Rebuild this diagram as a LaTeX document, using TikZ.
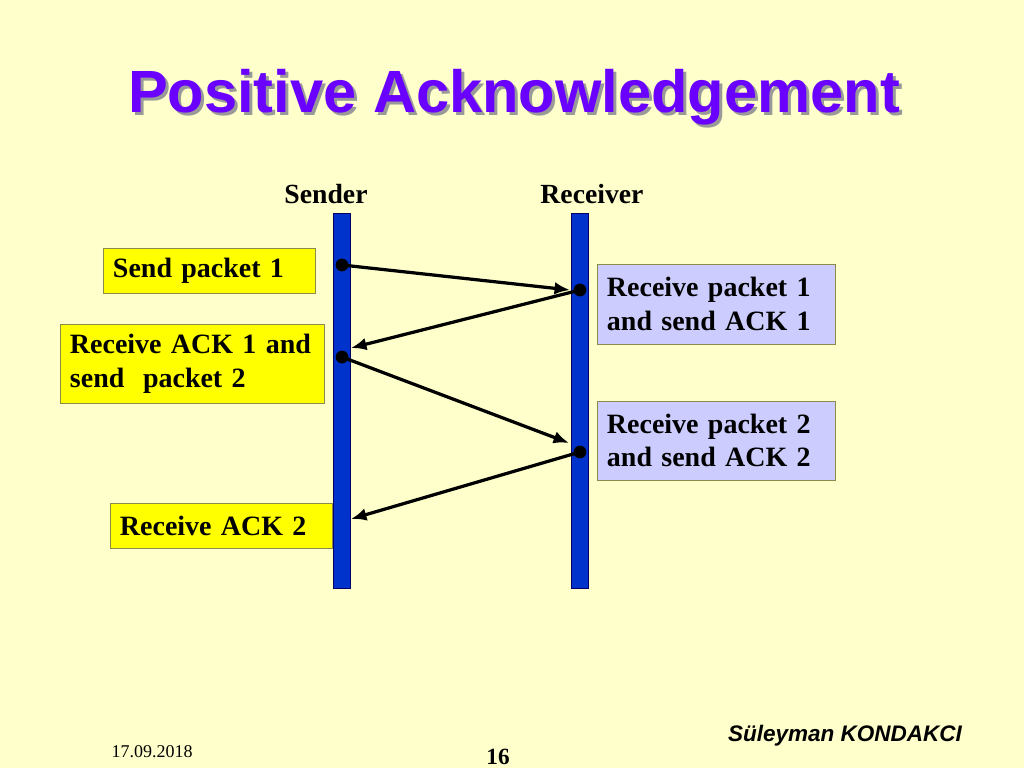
\documentclass[tikz,border=0pt]{standalone}
\usepackage{fontspec}
\setmainfont{Liberation Serif}
\setsansfont{Liberation Sans}
\usepackage{xcolor}
\usepackage{tikz}
\usetikzlibrary{positioning,arrows.meta}
\definecolor{slidebg}{HTML}{FFFFCC}
\definecolor{titlepurple}{HTML}{6A00FF}
\definecolor{laneblue}{HTML}{0033CC}
\definecolor{actyellow}{HTML}{FFFF00}
\definecolor{actlav}{HTML}{CCCCFF}
\definecolor{boxline}{HTML}{8C8C4A}
\tikzset{
  lane/.style={draw=blue!40!black,fill=laneblue,minimum width=0.425cm,minimum height=9.375cm,inner sep=0pt},
  head/.style={font=\fontsize{19.7}{22}\selectfont\bfseries},
  act/.style={draw=boxline,fill=actyellow,align=left,inner xsep=0.25cm,inner ysep=0pt,
    font=\fontsize{19.9}{24}\selectfont\bfseries},
  recv/.style={act,fill=actlav},
  dot/.style={circle,fill=black,minimum size=0.32cm,inner sep=0pt},
  msg/.style={-{Latex[length=11pt,width=9pt]},line width=2.3pt},
}

\begin{document}
\begin{tikzpicture}[x=0.025cm,y=-0.025cm]
\fill[slidebg] (0,0) rectangle (1024,768);

% title
\node[font=\fontsize{42.4}{48}\selectfont\sffamily\bfseries,text=black!40] (tshadow) at (517,100) {Positive Acknowledgement};
\node[font=\fontsize{42.4}{48}\selectfont\sffamily\bfseries,text=titlepurple] (title) at (514,97) {Positive Acknowledgement};

% lifelines
\node[lane] (sbar) at (341.5,400.5) {};
\node[lane] (rbar) at (580,400.5) {};
\node[head] (sname) at (326,194) {Sender};
\node[head] (rname) at (592,194) {Receiver};

% sender actions
\node[act, text width=4.8cm, minimum height=1.125cm] (send1) at (209,270.5) {Send packet 1};
\node[act, text width=6.1cm, minimum height=1.975cm] (ack1) at (192,363.5) {Receive ACK 1 and\\send\ \ packet 2};
\node[act, text width=5.05cm, minimum height=1.125cm] (ack2) at (221,525.5) {Receive ACK 2};

% receiver actions
\node[recv, text width=5.45cm, minimum height=2cm] (rec1) at (716,304) {Receive packet 1\\and send ACK 1};
\node[recv, text width=5.45cm, minimum height=1.975cm] (rec2) at (716,440.5) {Receive packet 2\\and send ACK 2};

% events
\node[dot] (d1) at (342,265) {};
\node[dot] (d2) at (580,290) {};
\node[dot] (d3) at (342,357) {};
\node[dot] (d4) at (580,452) {};
\coordinate (e1) at (570,290);
\coordinate (e2) at (351,348);
\coordinate (e3) at (569,443);
\coordinate (e4) at (351,519);

\draw[msg] (d1.center) -- (e1);
\draw[msg] (d2.center) -- (e2);
\draw[msg] (d3.center) -- (e3);
\draw[msg] (d4.center) -- (e4);

% footer
\node[font=\fontsize{12.8}{14}\selectfont] (date) at (152,752) {17.09.2018};
\node[font=\fontsize{16.5}{18}\selectfont\bfseries] (page) at (498,757) {16};
\node[font=\fontsize{16}{18}\selectfont\sffamily\bfseries\itshape] (author) at (845,736) {Süleyman KONDAKCI};
\end{tikzpicture}
\end{document}
